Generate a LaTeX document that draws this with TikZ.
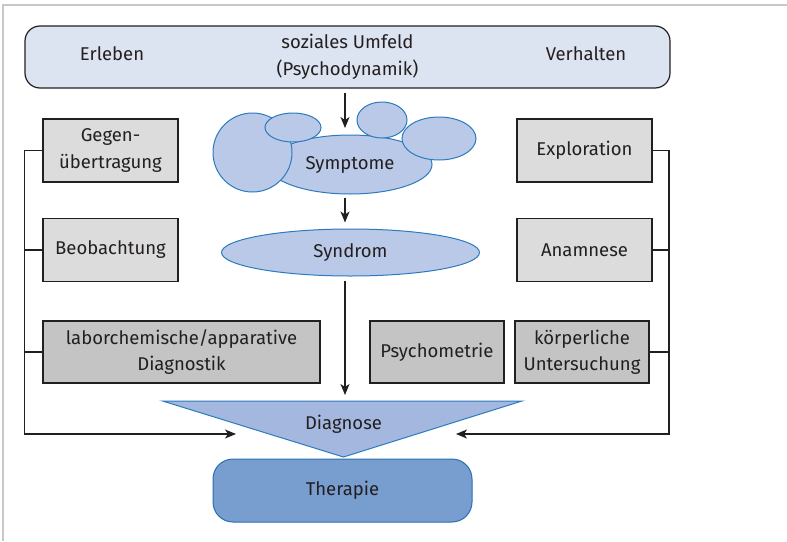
\documentclass[tikz,border=0pt]{standalone}
\usepackage{fontspec}
\setmainfont{Fira Sans}
\usetikzlibrary{shapes.geometric,arrows.meta}
\definecolor{TextGray}{HTML}{231F20}
\definecolor{FrameGray}{HTML}{C8C8C8}
\definecolor{BarBlue}{HTML}{DCE3F1}
\definecolor{BoxLight}{HTML}{DCDCDC}
\definecolor{BoxDark}{HTML}{C4C4C4}
\definecolor{CloudFill}{HTML}{B9C9E7}
\definecolor{CloudLine}{HTML}{2B7BBF}
\definecolor{DiagFill}{HTML}{A4B8DF}
\definecolor{TherFill}{HTML}{789DCF}
\definecolor{TherLine}{HTML}{2B6FB0}

\begin{document}
\begin{tikzpicture}[x=1pt,y=-1pt,every node/.style={text=TextGray,align=center},font=\fontsize{18.5}{26.5}\selectfont]
	\tikzset{BoxStyle/.style={draw=TextGray,line width=1.2pt,fill=BoxLight,minimum width=135pt,minimum height=63pt,inner sep=0pt}}
	\tikzset{CloudStyle/.style={draw=CloudLine,fill=CloudFill,line width=1pt}}
	\tikzset{LineStyle/.style={draw=TextGray,line width=1.2pt}}
	\tikzset{EdgeStyle/.style={LineStyle,-{Stealth[length=11pt,width=9pt,inset=3pt]}}}
	\useasboundingbox (0,0) rectangle (787,541);
	\draw[FrameGray,line width=2pt] (787,5) -- (3,5) -- (3,541);
	\node[draw=TextGray,line width=1.2pt,fill=BarBlue,rounded corners=15pt,minimum width=645pt,minimum height=62pt] (Umfeld) at (347.5,57) {soziales Umfeld\\(Psychodynamik)};
	\node (Erleben) at (112,54) {Erleben};
	\node (Verhalten) at (586,54) {Verhalten};
	\node[BoxStyle] (Gegen) at (110.5,150.5) {Gegen-\\übertragung};
	\node[BoxStyle] (Beob) at (110.5,250) {Beobachtung};
	\node[BoxStyle] (Explo) at (584.5,150.5) {Exploration};
	\node[BoxStyle] (Anam) at (584.5,250) {Anamnese};
	\node[BoxStyle,fill=BoxDark,minimum width=277pt,minimum height=62pt] (Labor) at (181.5,352) {laborchemische/apparative\\Diagnostik};
	\node[BoxStyle,fill=BoxDark,minimum width=134pt,minimum height=62pt] (Psycho) at (437,352) {Psychometrie};
	\node[BoxStyle,fill=BoxDark,minimum width=134pt,minimum height=62pt] (Koerper) at (582,352) {körperliche\\Untersuchung};
	\node[CloudStyle,ellipse,minimum width=164pt,minimum height=59pt] (Symptome) at (350,164.5) {Symptome};
	\draw[CloudStyle] (252.5,152.5) ellipse [x radius=39.5,y radius=39.5];
	\draw[CloudStyle] (293,127.5) ellipse [x radius=28,y radius=14.5];
	\draw[CloudStyle] (382,120) ellipse [x radius=25,y radius=18];
	\draw[CloudStyle] (439,138.5) ellipse [x radius=37,y radius=21.5];
	\node[CloudStyle,ellipse,minimum width=258pt,minimum height=47pt] (Syndrom) at (350.5,252.5) {Syndrom};
	\draw[CloudStyle,fill=DiagFill] (162.5,401) -- (522,401) -- (343.5,457) -- cycle;
	\node (Diagnose) at (343.5,424) {Diagnose};
	\node[CloudStyle,fill=TherFill,draw=TherLine,rounded corners=20pt,minimum width=259pt,minimum height=63pt] (Therapie) at (342.5,490.5) {Therapie};
	\coordinate (DiagTop) at (343.5,401);
	\coordinate (Mid) at (345,0);
	\coordinate (BusL) at (24.5,0);
	\coordinate (BusR) at (669,0);
	\coordinate (InL) at (236,434);
	\coordinate (InR) at (456,434);
	\draw[EdgeStyle,shorten <=4pt,shorten >=6.5pt] (Umfeld.south -| Mid) -- (Symptome.north -| Mid);
	\draw[EdgeStyle,shorten <=3pt,shorten >=6pt] (Symptome.south -| Mid) -- (Syndrom.north -| Mid);
	\draw[EdgeStyle,shorten <=4pt,shorten >=6pt] (Syndrom.south -| Mid) -- (DiagTop -| Mid);
	\draw[EdgeStyle] (Gegen.west) -- (Gegen.west -| BusL) |- (InL);
	\draw[LineStyle] (Beob.west) -- (Beob.west -| BusL);
	\draw[LineStyle] (Labor.west) -- (Labor.west -| BusL);
	\draw[EdgeStyle] (Explo.east) -- (Explo.east -| BusR) |- (InR);
	\draw[LineStyle] (Anam.east) -- (Anam.east -| BusR);
	\draw[LineStyle] (Koerper.east) -- (Koerper.east -| BusR);
\end{tikzpicture}
\end{document}
